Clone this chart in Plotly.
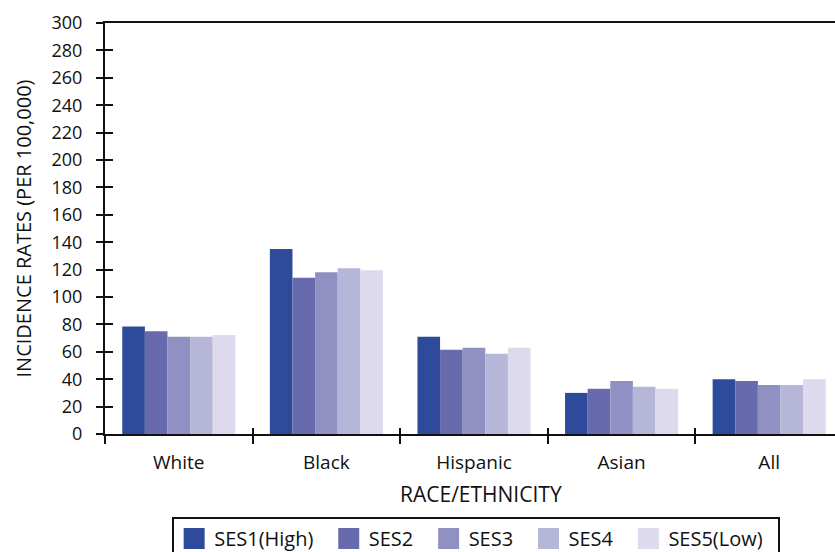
import plotly.graph_objects as go

categories = ["White", "Black", "Hispanic", "Asian", "All"]
series_names = ["SES1(High)", "SES2", "SES3", "SES4", "SES5(Low)"]
ses1 = [78.5, 135, 71, 30, 40]
ses2 = [75, 114, 61.5, 33, 38.6]
ses3 = [71, 118, 63, 38.6, 35.8]
ses4 = [71, 121, 58.5, 34.4, 35.8]
ses5 = [72.3, 119.5, 63, 33, 40]
series_values = [ses1, ses2, ses3, ses4, ses5]
colors = ["#2E4A9A", "#676BAE", "#9090C2", "#B6B6D8", "#DCDAEC"]
y_ticks = list(range(0, 301, 20))

FONT = "Open Sans"
PAD = "\u00a0\u00a0"
fig = go.Figure()
for name, vals, col in zip(series_names, series_values, colors):
    fig.add_trace(go.Bar(x=categories, y=vals, name=name, marker=dict(color=col, line=dict(width=0)),
                         showlegend=False))
# legend entries with larger square swatches
for name, col in zip(series_names, colors):
    fig.add_trace(go.Scatter(x=[None], y=[None], mode="markers", name=name + PAD,
                             marker=dict(symbol="square", size=16, color=col,
                                         line=dict(color=col, width=5)),
                             xaxis="x2", yaxis="y2"))

n = len(categories)
fig.update_layout(
    width=835, height=552,
    margin=dict(l=105, r=0, t=23, b=118, autoexpand=False),
    paper_bgcolor="white", plot_bgcolor="white",
    font=dict(family=FONT, size=18, color="#111"),
    barmode="group", bargap=0.234, bargroupgap=0,
    xaxis=dict(type="category", categoryarray=categories, range=[-0.5, n - 0.554],
               tickson="boundaries", ticks="outside", ticklen=8, tickwidth=2, tickcolor="#111",
               showline=True, linewidth=2, linecolor="#111", mirror=True, showgrid=False,
               ticklabelstandoff=10, automargin=False, tickfont=dict(size=19)),
    yaxis=dict(range=[0, 300], tickvals=y_ticks, ticks="outside", ticklen=7, tickwidth=2,
               tickcolor="#111", showline=True, linewidth=2, linecolor="#111", showgrid=False,
               zeroline=False, ticklabelstandoff=10, automargin=False, tickfont=dict(size=18),
               title=dict(text="INCIDENCE RATES (PER 100,000)", font=dict(size=20), standoff=15)),
    xaxis2=dict(overlaying="x", anchor="y", range=[-0.5, n - 0.554],
                tickvals=[i - 0.5 for i in range(n + 1)], ticks="inside", ticklen=6, tickwidth=2,
                tickcolor="#111", showticklabels=False, showline=False, showgrid=False, zeroline=False),
    yaxis2=dict(overlaying="y", anchor="x", range=[0, 300], tickvals=y_ticks, ticks="inside",
                ticklen=8, tickwidth=2, tickcolor="#111", showticklabels=False, showline=False,
                showgrid=False, zeroline=False),
    legend=dict(orientation="h", x=0.092, y=-0.202, xanchor="left", yanchor="top",
                bordercolor="#111", borderwidth=2, font=dict(size=20), itemsizing="trace"),
    annotations=[dict(text="RACE/ETHNICITY", xref="paper", yref="paper", x=0.515, y=-0.145,
                      xanchor="center", yanchor="middle", showarrow=False, font=dict(size=21))],
)
fig.write_html("out.html", config={"displayModeBar": False},
               post_script="document.body.style.margin='0';document.body.style.padding='0';")
